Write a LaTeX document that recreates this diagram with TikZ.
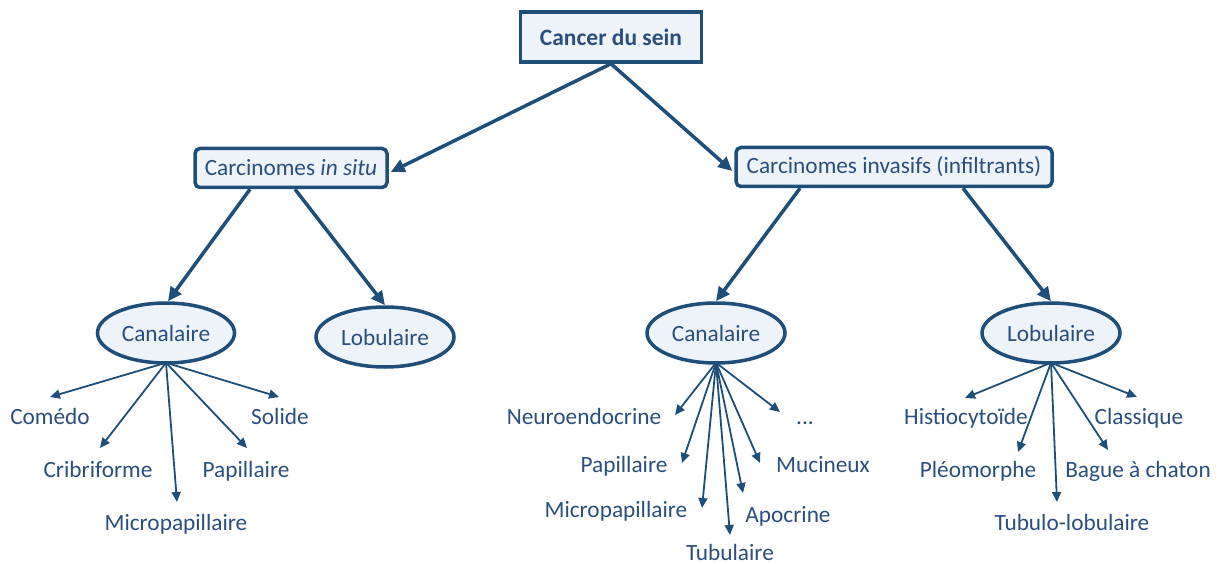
\documentclass[tikz,border=0pt]{standalone}
\usepackage{fontspec}
\setmainfont{Carlito}
\usetikzlibrary{shapes.geometric,arrows.meta,calc}
\definecolor{lineblue}{HTML}{1F4E79}
\definecolor{textblue}{HTML}{2B4E7E}
\definecolor{boxfill}{HTML}{EEF3FA}
\tikzset{
  every node/.style={font=\fontsize{23.3}{27}\selectfont, text=textblue},
  topbox/.style={draw=lineblue, line width=3.5pt, fill=boxfill, minimum width=181pt, minimum height=50pt, inner sep=0pt, font=\fontsize{23.5}{27}\selectfont\bfseries},
  midbox/.style={draw=lineblue, line width=3.5pt, fill=boxfill, rounded corners=5pt, minimum height=39pt, inner sep=0pt},
  ovalnode/.style={ellipse, draw=lineblue, line width=3.5pt, fill=boxfill, minimum width=137pt, minimum height=60pt, inner sep=0pt},
  leaf/.style={inner sep=0pt, anchor=base},
  bigarrow/.style={draw=lineblue, line width=3.5pt, -{Triangle[length=14pt,width=13pt]}},
  smallarrow/.style={draw=lineblue, line width=1.8pt, -{Triangle[length=10pt,width=9pt]}},
}
\begin{document}
\begin{tikzpicture}[x=1pt,y=-1pt]
\useasboundingbox (0,0) rectangle (1218,564);
% main nodes
\node[topbox] (top) at (611,37) {Cancer du sein};
\node[midbox, minimum width=192pt] (is) at (291,168) {Carcinomes \textit{in situ}};
\node[midbox, minimum width=316pt] (inv) at (894,167) {Carcinomes invasifs (infiltrants)};
\node[ovalnode] (cl) at (166,333) {Canalaire};
\node[ovalnode, minimum width=138pt] (ll) at (385,337) {Lobulaire};
\node[ovalnode, minimum width=138pt] (cr) at (716,333) {Canalaire};
\node[ovalnode, minimum width=138pt] (lr) at (1051,333) {Lobulaire};
% big arrows
\draw[bigarrow] (top.south) -- ([xshift=2pt,yshift=-4pt]is.east);
\draw[bigarrow] (top.south) -- ([xshift=-2pt,yshift=-4pt]inv.west);
\draw[bigarrow] ([xshift=-41pt]is.south) -- ([xshift=2pt]cl.north);
\draw[bigarrow] ([xshift=4pt]is.south) -- (ll.north);
\draw[bigarrow] ([xshift=-94pt]inv.south) -- (cr.north);
\draw[bigarrow] ([xshift=69pt]inv.south) -- (lr.north);
% left canalaire leaves
\node[leaf] (come) at (50,424) {Comédo};
\node[leaf] (crib) at (98,477) {Cribriforme};
\node[leaf] (micl) at (176,530) {Micropapillaire};
\node[leaf] (papl) at (246,477) {Papillaire};
\node[leaf] (soli) at (280,424) {Solide};
\coordinate (tcome) at (50,397);
\coordinate (tcrib) at (100,448);
\coordinate (tmicl) at (177,502);
\coordinate (tpapl) at (247,448);
\coordinate (tsoli) at (279,397);
\foreach \t in {tcome,tcrib,tmicl,tpapl,tsoli}
  \draw[smallarrow] ([yshift=2pt]cl.south) -- (\t);
% right canalaire leaves
\node[leaf] (neur) at (584,424) {Neuroendocrine};
\node[leaf] (papr) at (624,472) {Papillaire};
\node[leaf] (micr) at (616,517) {Micropapillaire};
\node[leaf] (tubu) at (730,560) {Tubulaire};
\node[leaf] (apoc) at (788,522) {Apocrine};
\node[leaf] (muci) at (823,472) {Mucineux};
\node[leaf] (etc) at (805,424) {...};
\coordinate (tneur) at (675,415);
\coordinate (tpapr) at (682,463);
\coordinate (tmicr) at (702,508);
\coordinate (ttubu) at (730,535);
\coordinate (tapoc) at (743,493);
\coordinate (tmuci) at (760,463);
\coordinate (tetc) at (780,412);
\foreach \t in {tneur,tpapr,tmicr,ttubu,tapoc,tmuci,tetc}
  \draw[smallarrow] ([yshift=2pt]cr.south) -- (\t);
% right lobulaire leaves
\node[leaf] (hist) at (966,424) {Histiocytoïde};
\node[leaf] (pleo) at (978,477) {Pléomorphe};
\node[leaf] (tulo) at (1072,530) {Tubulo-lobulaire};
\node[leaf] (bagu) at (1138,477) {Bague à chaton};
\node[leaf] (clas) at (1139,424) {Classique};
\coordinate (thist) at (965,398);
\coordinate (tpleo) at (1018,452);
\coordinate (ttulo) at (1057,502);
\coordinate (tbagu) at (1108,450);
\coordinate (tclas) at (1137,397);
\foreach \t in {thist,tpleo,ttulo,tbagu,tclas}
  \draw[smallarrow] ([yshift=2pt]lr.south) -- (\t);
\end{tikzpicture}
\end{document}
